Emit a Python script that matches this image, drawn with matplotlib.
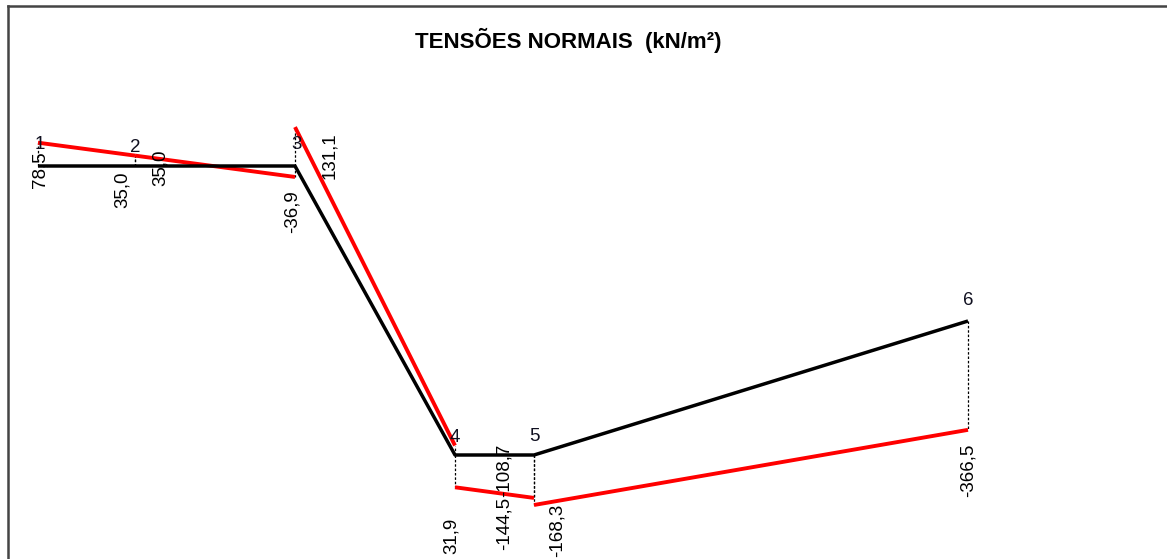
import matplotlib.pyplot as plt

plt.rcParams['font.family'] = ['Liberation Sans', 'DejaVu Sans']

# frame geometry (drawing units, 1 unit = 10 px on screen)
node_names = ["1", "2", "3", "4", "5", "6"]
node_x = [0.0, 9.7, 25.7, 41.7, 49.6, 93.0]
node_y = [0.0, 0.0, 0.0, -28.9, -28.9, -15.5]

# elements as (start node, end node), indexes into the node lists
elem_start = [0, 1, 2, 3, 4]
elem_end = [1, 2, 3, 4, 5]

# normal stresses at element ends (kN/m2)
sig_start = [78.5, 35.0, 131.1, -108.7, -168.3]
sig_end = [35.0, -36.9, 31.9, -144.5, -366.5]

SCALE = 0.0297  # drawing units per kN/m2

fig = plt.figure(figsize=(11.67, 5.59), dpi=100)
ax = fig.add_axes([0, 0, 1, 1])
ax.set_xlim(-3.8, 112.9)
ax.set_ylim(-39.3, 16.6)
ax.axis("off")


def pix(px, py):
    # screen pixel -> drawing units
    return (px - 38) / 10.0, (166 - py) / 10.0


# border (top and left)
ax.plot([8 / 1167, 1], [1 - 6 / 559, 1 - 6 / 559], transform=ax.transAxes,
        color="#444444", lw=1.8, clip_on=False)
ax.plot([8 / 1167, 8 / 1167], [0, 1 - 6 / 559], transform=ax.transAxes,
        color="#444444", lw=1.8, clip_on=False)

# structure
ax.plot(node_x, node_y, color="black", lw=2.5, solid_capstyle="butt", zorder=3)

# stress diagram, drawn vertically from each element end
for a, b, sa, sb in zip(elem_start, elem_end, sig_start, sig_end):
    ya = node_y[a] + sa * SCALE
    yb = node_y[b] + sb * SCALE
    ax.plot([node_x[a], node_x[b]], [ya, yb], color="#ff0000", lw=2.8,
            solid_capstyle="butt", zorder=2)
    for n, y in ((a, ya), (b, yb)):
        ax.plot([node_x[n], node_x[n]], [node_y[n], y], color="black",
                lw=0.9, ls=(0, (2, 1.5)), zorder=1)

# value labels (rotated)
value_text = ["78,5", "35,0", "35,0", "-36,9", "131,1", "31,9",
              "-108,7", "-144,5", "-168,3", "-366,5"]
value_pos = [(40, 170), (122, 190), (160, 168), (292, 212), (330, 156),
             (451, 536), (504, 470), (504, 523), (557, 530), (968, 470)]
for t, (px, py) in zip(value_text, value_pos):
    x, y = pix(px, py)
    ax.text(x, y, t, rotation=90, ha="center", va="center", fontsize=13.5,
            color="black", zorder=4)

# node numbers
node_label_pos = [(40, 144), (135, 147), (297, 144), (455, 437), (534, 436), (968, 300)]
for t, (px, py) in zip(node_names, node_label_pos):
    x, y = pix(px, py)
    ax.text(x, y, t, ha="center", va="center", fontsize=13.5, color="#101020", zorder=4)

tx, ty = pix(568, 40)
ax.text(tx, ty, "TENSÕES NORMAIS  (kN/m²)", ha="center", va="center",
        fontsize=16, fontweight="bold", color="black")

fig.savefig("out.png", dpi=100, facecolor="white")
